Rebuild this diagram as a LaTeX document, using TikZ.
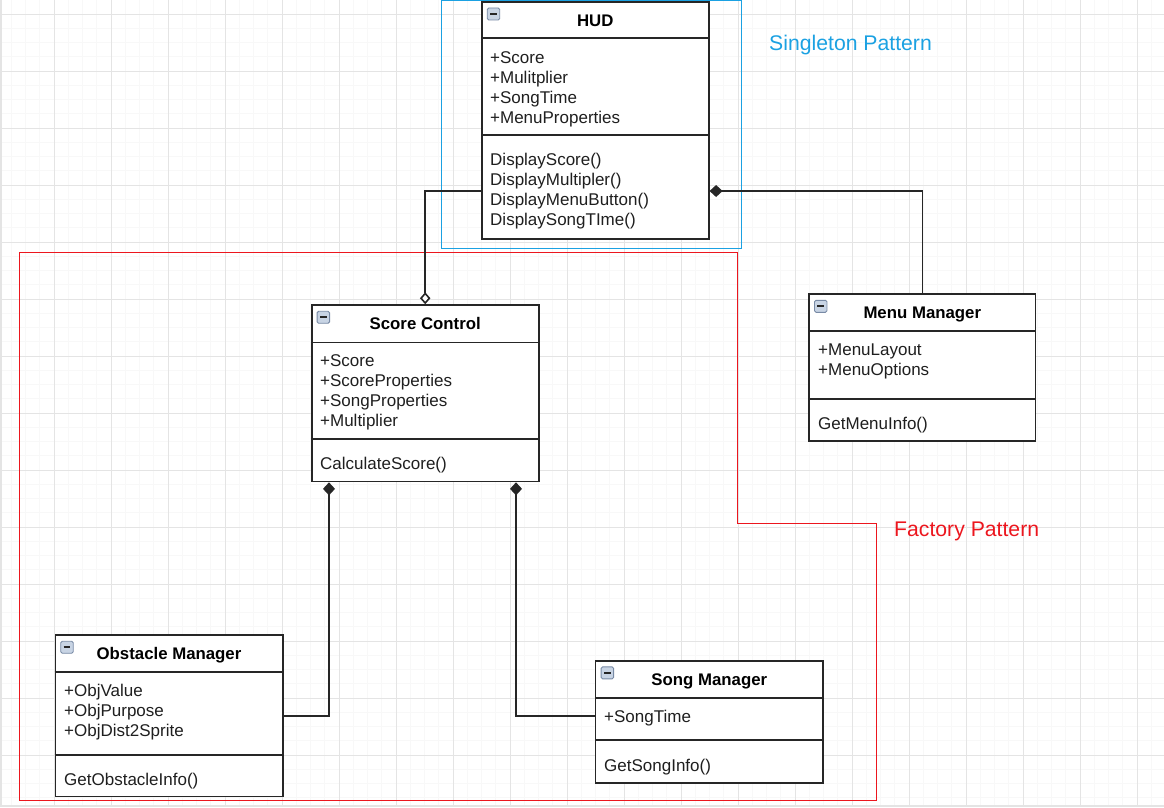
\documentclass[tikz,border=0pt]{standalone}
\usepackage{fontspec}
\setmainfont{Liberation Sans}
\usetikzlibrary{arrows.meta}

\definecolor{gridminor}{RGB}{248,248,248}
\definecolor{gridmajor}{RGB}{228,228,228}
\definecolor{umlline}{RGB}{38,38,38}
\definecolor{singleblue}{RGB}{27,161,226}
\definecolor{factoryred}{RGB}{236,22,30}
\definecolor{iconfill}{RGB}{200,212,228}
\definecolor{iconedge}{RGB}{120,138,165}

\tikzset{
  umlclass/.style={draw=umlline, line width=1.6pt, fill=white, rectangle, inner sep=0pt},
  divider/.style={draw=umlline, line width=1.6pt},
  assoc/.style={draw=umlline, line width=1.6pt},
  member/.style={anchor=base west, inner sep=0pt, font=\fontsize{17}{20}\selectfont, text=black!88},
  classname/.style={anchor=base, inner sep=0pt, font=\fontsize{16.8}{20}\selectfont\bfseries},
  patternlabel/.style={anchor=base west, inner sep=0pt, font=\fontsize{21.2}{25}\selectfont},
  iconbox/.style={draw=iconedge, fill=iconfill, line width=0.9pt, rounded corners=1.5pt},
}

\begin{document}
\begin{tikzpicture}[x=1pt,y=-1pt]
  \useasboundingbox (0,0) rectangle (1164,807);

  % background grid
  \foreach \k in {0,...,82}
    \draw[gridminor, line width=0.8pt] ({-3+14.25*\k},0) -- ++(0,807);
  \foreach \k in {0,...,60}
    \draw[gridminor, line width=0.8pt] (0,{-43+14.25*\k}) -- ++(1164,0);
  \foreach \k in {0,...,21}
    \draw[gridmajor, line width=1pt] ({-3+57*\k},0) -- ++(0,807);
  \foreach \k in {0,...,14}
    \draw[gridmajor, line width=1pt] (0,{14+57*\k}) -- ++(1164,0);
  \fill[gridmajor] (0,0) rectangle (2,807);
  \fill[gridmajor] (0,805) rectangle (1164,807);

  % pattern frames
  \draw[singleblue, line width=1pt] (441,0.5) rectangle (741,248);
  \draw[factoryred, line width=1pt] (19,252.5) -- (737.5,252.5) -- (737.5,523.5)
    -- (876.5,523.5) -- (876.5,800.5) -- (19,800.5) -- cycle;
  \node[patternlabel, text=singleblue] (singleton) at (769,50.5) {Singleton Pattern};
  \node[patternlabel, text=factoryred] (factory) at (894,536) {Factory Pattern};

  % classes
  \node[umlclass, minimum width=227pt, minimum height=237.5pt] (hud) at (595.3,120.5) {};
  \node[umlclass, minimum width=227pt, minimum height=176.5pt] (score) at (425.2,393.3) {};
  \node[umlclass, minimum width=226.5pt, minimum height=147pt] (menu) at (922.3,367.6) {};
  \node[umlclass, minimum width=227.4pt, minimum height=161.5pt] (obst) at (169,715.8) {};
  \node[umlclass, minimum width=227.3pt, minimum height=122pt] (song) at (709.3,721.7) {};

  \draw[divider] (hud.west |- 0,38) -- (hud.east |- 0,38);
  \draw[divider] (hud.west |- 0,135) -- (hud.east |- 0,135);
  \draw[divider] (score.west |- 0,342.3) -- (score.east |- 0,342.3);
  \draw[divider] (score.west |- 0,438.7) -- (score.east |- 0,438.7);
  \draw[divider] (menu.west |- 0,331) -- (menu.east |- 0,331);
  \draw[divider] (menu.west |- 0,399) -- (menu.east |- 0,399);
  \draw[divider] (obst.west |- 0,672) -- (obst.east |- 0,672);
  \draw[divider] (obst.west |- 0,754.7) -- (obst.east |- 0,754.7);
  \draw[divider] (song.west |- 0,697.7) -- (song.east |- 0,697.7);
  \draw[divider] (song.west |- 0,739.7) -- (song.east |- 0,739.7);

  % collapse icons
  \foreach \c in {hud,score,menu,obst,song} {
    \draw[iconbox] ([shift={(6.2,7)}]\c.north west) rectangle ++(12.5,12);
    \draw[umlline, line width=2pt] ([shift={(9.2,13)}]\c.north west) -- ++(6.5,0);
  }

  % class names
  \node[classname] (hudT) at (hud.center |- 0,26) {HUD};
  \node[classname] (scoreT) at (score.center |- 0,329.5) {Score Control};
  \node[classname] (menuT) at (menu.center |- 0,318.5) {Menu Manager};
  \node[classname] (obstT) at (obst.center |- 0,659.5) {Obstacle Manager};
  \node[classname] (songT) at (song.center |- 0,685.7) {Song Manager};

  % members
  \foreach \t [count=\i] in {+Score,+Mulitplier,+SongTime,+MenuProperties}
    \node[member] (hudA\i) at (490,{43+20*\i}) {\t};
  \foreach \t [count=\i] in {DisplayScore(),DisplayMultipler(),DisplayMenuButton(),DisplaySongTIme()}
    \node[member] (hudM\i) at (490,{145.5+20*\i}) {\t};
  \foreach \t [count=\i] in {+Score,+ScoreProperties,+SongProperties,+Multiplier}
    \node[member] (scoreA\i) at (320,{346+20*\i}) {\t};
  \node[member] (scoreM1) at (320,469.3) {CalculateScore()};
  \foreach \t [count=\i] in {+MenuLayout,+MenuOptions}
    \node[member] (menuA\i) at (818,{335+20*\i}) {\t};
  \node[member] (menuM1) at (818,429.3) {GetMenuInfo()};
  \foreach \t [count=\i] in {+ObjValue,+ObjPurpose,+ObjDist2Sprite}
    \node[member] (obstA\i) at (64,{676+20*\i}) {\t};
  \node[member] (obstM1) at (64,785) {GetObstacleInfo()};
  \node[member] (songA1) at (604,722.7) {+SongTime};
  \node[member] (songM1) at (604,771.7) {GetSongInfo()};

  % associations
  \draw[assoc, -{Diamond[length=12pt,width=10.5pt,fill=white]}] (hud.west |- 0,191) -| (score.north);
  \draw[assoc, {Diamond[length=13pt,width=12pt]}-] (hud.east |- 0,191) -| (menu.north);
  \draw[assoc, {Diamond[length=13pt,width=12pt]}-] (score.south -| 329,0) |- (obst.east |- 0,716);
  \draw[assoc, {Diamond[length=13pt,width=12pt]}-] (score.south -| 516,0) |- (song.west |- 0,716);
\end{tikzpicture}
\end{document}
